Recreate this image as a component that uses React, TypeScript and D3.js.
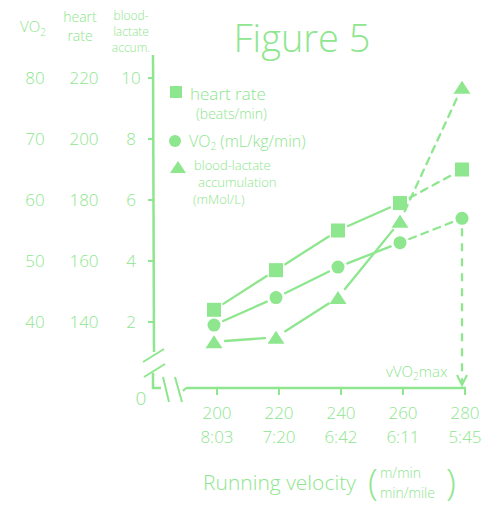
import React from "react";
import * as d3 from "d3";

const velocities = [200, 220, 240, 260, 280];
const paces = ["8:03", "7:20", "6:42", "6:11", "5:45"];
const heartRate = [144, 157, 170, 179, 190];
const vo2 = [39.5, 44, 49, 53, 57];
const lactate = [1.35, 1.5, 2.8, 5.3, 9.7];
const vo2Ticks = [80, 70, 60, 50, 40];
const hrTicks = [220, 200, 180, 160, 140];
const lacTicks = [10, 8, 6, 4, 2];

const C = "#8ee68e";
const FONT = "'Open Sans', sans-serif";

export default function App() {
  const x = d3.scaleLinear().domain([200, 280]).range([214, 462]);
  const yLac = d3.scaleLinear().domain([2, 10]).range([322, 78]);
  const yHR = d3.scaleLinear().domain([140, 220]).range([322, 78]);
  const yVO2 = d3.scaleLinear().domain([40, 80]).range([322, 78]);

  const seg = (pts: [number, number][], gap: number) =>
    pts.slice(0, -1).map((p, i) => {
      const q = pts[i + 1];
      const dx = q[0] - p[0], dy = q[1] - p[1];
      const L = Math.hypot(dx, dy);
      const ux = dx / L, uy = dy / L;
      return {
        x1: p[0] + ux * gap, y1: p[1] + uy * gap,
        x2: q[0] - ux * gap, y2: q[1] - uy * gap,
        dashed: i === pts.length - 2,
      };
    });

  const hrPts = velocities.map((v, i) => [x(v), yHR(heartRate[i])] as [number, number]);
  const vo2Pts = velocities.map((v, i) => [x(v), yVO2(vo2[i])] as [number, number]);
  const lacPts = velocities.map((v, i) => [x(v), yLac(lactate[i])] as [number, number]);

  const lineProps = (s: any, k: string) => (
    <line key={k} x1={s.x1} y1={s.y1} x2={s.x2} y2={s.y2} stroke={C} strokeWidth={2.3}
      strokeLinecap="round" strokeDasharray={s.dashed ? "7 6" : undefined} />
  );

  const tri = (cx: number, cy: number, w = 17, h = 13) =>
    `M${cx - w / 2},${cy + h / 2}L${cx + w / 2},${cy + h / 2}L${cx},${cy - h / 2}Z`;

  const axisX = 388;
  const txt = { fill: C, fontFamily: FONT, fontWeight: 300 } as const;

  return (
    <svg width={500} height={520} style={{ position: "absolute", left: 0, top: 0 }}>
      <rect width={500} height={520} fill="white" />
      {/* Title */}
      <text x={302} y={52} textAnchor="middle" fontSize={38} {...txt}>Figure 5</text>

      {/* Header labels */}
      <text x={20} y={32} fontSize={15} {...txt}>VO<tspan fontSize={10} dy={4}>2</tspan></text>
      <text x={80} y={22} textAnchor="middle" fontSize={14} {...txt}>heart</text>
      <text x={80} y={41} textAnchor="middle" fontSize={14} {...txt}>rate</text>
      <text x={131} y={20} textAnchor="middle" fontSize={12} {...txt}>blood-</text>
      <text x={131} y={36} textAnchor="middle" fontSize={12} {...txt}>lactate</text>
      <text x={131} y={52} textAnchor="middle" fontSize={12} {...txt}>accum.</text>

      {/* Left tick labels */}
      {vo2Ticks.map((t) => (
        <text key={"v" + t} x={35} y={yVO2(t) + 6} textAnchor="middle" fontSize={17} {...txt}>{t}</text>
      ))}
      {hrTicks.map((t) => (
        <text key={"h" + t} x={84} y={yHR(t) + 6} textAnchor="middle" fontSize={17} {...txt}>{t}</text>
      ))}
      {lacTicks.map((t) => (
        <g key={"l" + t}>
          <text x={131} y={yLac(t) + 6} textAnchor="middle" fontSize={17} {...txt}>{t}</text>
          <line x1={148} x2={154} y1={yLac(t)} y2={yLac(t)} stroke={C} strokeWidth={2} />
        </g>
      ))}
      <text x={141} y={405} textAnchor="middle" fontSize={19} {...txt}>0</text>

      {/* Y axis with break */}
      <line x1={153} y1={55} x2={154} y2={352} stroke={C} strokeWidth={2.5} />
      <line x1={143} y1={362} x2={164} y2={349} stroke={C} strokeWidth={2} />
      <line x1={144} y1={377} x2={165} y2={364} stroke={C} strokeWidth={2} />
      <polyline points={`153,373 153,388 161,388`} fill="none" stroke={C} strokeWidth={2.5} />
      <line x1={163} y1={377} x2={169} y2={402} stroke={C} strokeWidth={2} />
      <line x1={175} y1={377} x2={182} y2={402} stroke={C} strokeWidth={2} />

      {/* X axis */}
      <line x1={183} y1={axisX + 3} x2={186} y2={axisX} stroke={C} strokeWidth={2} />
      <line x1={186} y1={axisX} x2={466} y2={axisX} stroke={C} strokeWidth={2.5} />
      {velocities.map((v, i) => (
        <g key={"x" + v}>
          <line x1={x(v) + 3} x2={x(v) + 3} y1={axisX} y2={axisX + 7} stroke={C} strokeWidth={2} />
          <text x={x(v) + 3} y={419} textAnchor="middle" fontSize={17} {...txt}>{v}</text>
          <text x={x(v) + 3} y={443} textAnchor="middle" fontSize={17} {...txt}>{paces[i]}</text>
        </g>
      ))}
      <text x={203} y={490} fontSize={21} {...txt}>Running velocity</text>
      <text x={368} y={495} fontSize={36} {...txt}>(</text>
      <text x={380} y={478} fontSize={14} {...txt}>m/min</text>
      <text x={380} y={498} fontSize={14} {...txt}>min/mile</text>
      <text x={446} y={495} fontSize={36} {...txt}>)</text>

      {/* Series lines */}
      {seg(hrPts, 11).map((s, i) => lineProps(s, "hs" + i))}
      {seg(vo2Pts, 10).map((s, i) => lineProps(s, "vs" + i))}
      {seg(lacPts, 11).map((s, i) => lineProps(s, "ls" + i))}

      {/* vVO2max drop line */}
      <line x1={vo2Pts[4][0]} y1={vo2Pts[4][1] + 10} x2={vo2Pts[4][0]} y2={axisX - 3}
        stroke={C} strokeWidth={2.3} strokeDasharray="8 7" />
      <polyline points={`${vo2Pts[4][0] - 5},${axisX - 13} ${vo2Pts[4][0]},${axisX - 3} ${vo2Pts[4][0] + 5},${axisX - 13}`}
        fill="none" stroke={C} strokeWidth={2} />
      <text x={386} y={377} fontSize={15} {...txt}>vVO<tspan fontSize={10} dy={3}>2</tspan><tspan dy={-3}>max</tspan></text>

      {/* Markers */}
      {hrPts.map((p, i) => (
        <rect key={"hm" + i} x={p[0] - 7} y={p[1] - 7} width={14} height={14} fill={C} />
      ))}
      {vo2Pts.map((p, i) => (
        <circle key={"vm" + i} cx={p[0]} cy={p[1]} r={6.5} fill={C} />
      ))}
      {lacPts.map((p, i) => (
        <path key={"lm" + i} d={tri(p[0], p[1])} fill={C} />
      ))}

      {/* Legend */}
      <rect x={170} y={86} width={12} height={12} fill={C} />
      <text x={190} y={100} fontSize={17} {...txt}>heart rate</text>
      <text x={196} y={119} fontSize={14} {...txt}>(beats/min)</text>
      <circle cx={175} cy={141} r={6} fill={C} />
      <text x={189} y={147} fontSize={16} {...txt}>VO<tspan fontSize={10} dy={3}>2</tspan><tspan dy={-3}> (mL/kg/min)</tspan></text>
      <path d={tri(178, 167, 16, 12)} fill={C} />
      <text x={194} y={170} fontSize={13} {...txt}>blood-lactate</text>
      <text x={198} y={187} fontSize={13} {...txt}>accumulation</text>
      <text x={193} y={204} fontSize={13} {...txt}>(mMol/L)</text>
    </svg>
  );
}
